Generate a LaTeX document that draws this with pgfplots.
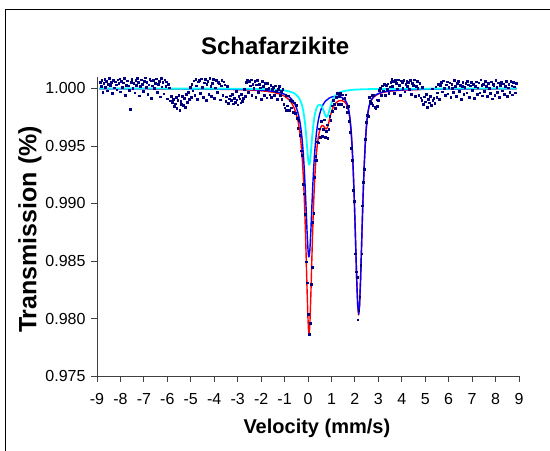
\documentclass[border=0pt]{standalone}
\usepackage{pgfplots}
\pgfplotsset{compat=1.18}
\usepackage{fontspec}
\setmainfont{Liberation Sans}
\definecolor{ptnavy}{RGB}{0,0,128}
\definecolor{fitred}{RGB}{255,0,0}
\definecolor{fitblue}{RGB}{0,0,255}
\definecolor{fitcyan}{RGB}{0,255,255}

\begin{document}
\begin{tikzpicture}[x=1bp,y=1bp]
\path[use as bounding box] (0,0) rectangle (550,451);
% chart frame (right and bottom edges fall outside the picture)
\draw[line width=1.3bp] (5.5,-20) -- (5.5,441.5) -- (570,441.5);
\begin{axis}[
    at={(97bp,75bp)}, anchor=south west,
    scale only axis, width=422bp, height=299bp,
    xmin=-9, xmax=9, ymin=0.975, ymax=1.001,
    axis x line*=bottom, axis y line*=left,
    axis line style={line width=0.8bp, black!75},
    xtick={-9,-8,...,9},
    ytick={0.975,0.980,0.985,0.990,0.995,1.000},
    tick align=outside, major tick length=6bp,
    tick style={line width=0.8bp, black!75},
    /pgf/number format/assume math mode=true,
    ticklabel style={font=\fontsize{16bp}{19bp}\selectfont},
    xticklabel style={yshift=-8bp},
    yticklabel style={xshift=-2bp, /pgf/number format/.cd, fixed, fixed zerofill, precision=3},
    title={Schafarzikite},
    title style={font=\bfseries\fontsize{24bp}{28bp}\selectfont, at={(axis description cs:0.422,1.084)}, anchor=center},
    xlabel={Velocity (mm/s)},
    xlabel style={font=\bfseries\fontsize{20bp}{23bp}\selectfont, at={(axis description cs:0.521,-0.176)}, anchor=center},
    ylabel={Transmission (\%)},
    ylabel style={font=\bfseries\fontsize{25bp}{28bp}\selectfont, at={(axis description cs:-0.159,0.49)}, anchor=center},
    clip=false,
]

% total fit
\addplot[fitred, line width=1.4bp, line join=round] coordinates {
(-8.9,0.99998) (-6,0.99997) (-4,0.99994) (-3,0.99990) (-2.5,0.99987) (-2,0.99980) (-1.75,0.99975)
(-1.48,0.99967) (-1.2,0.99951) (-1.0,0.99933) (-0.88,0.99915) (-0.8,0.99900) (-0.72,0.99880)
(-0.64,0.99853) (-0.6,0.99836) (-0.56,0.99815) (-0.52,0.99792) (-0.48,0.99763) (-0.44,0.99730)
(-0.40,0.99688) (-0.36,0.99633) (-0.32,0.99568) (-0.28,0.99484) (-0.24,0.99375) (-0.20,0.99235)
(-0.16,0.99055) (-0.12,0.98826) (-0.08,0.98549) (-0.04,0.98249) (0,0.97991) (0.02,0.97909)
(0.04,0.97872) (0.06,0.97888) (0.08,0.97952) (0.12,0.98191) (0.16,0.98489) (0.20,0.98771)
(0.24,0.99006) (0.28,0.99190) (0.32,0.99330) (0.36,0.99437) (0.40,0.99517) (0.44,0.99577)
(0.48,0.99620) (0.52,0.99650) (0.56,0.99669) (0.60,0.99678) (0.64,0.99677) (0.68,0.99669)
(0.72,0.99657) (0.76,0.99648) (0.80,0.99651) (0.84,0.99669) (0.88,0.99699) (0.92,0.99734)
(0.96,0.99767) (1.00,0.99797) (1.04,0.99820) (1.08,0.99840) (1.12,0.99854) (1.16,0.99867)
(1.20,0.99876) (1.24,0.99883) (1.28,0.99888) (1.32,0.99892) (1.36,0.99894) (1.40,0.99895)
(1.44,0.99894) (1.48,0.99892) (1.52,0.99888) (1.56,0.99883) (1.60,0.99874) (1.64,0.99862)
(1.68,0.99843) (1.72,0.99816) (1.76,0.99774) (1.80,0.99712) (1.84,0.99621) (1.88,0.99495)
(1.92,0.99327) (1.96,0.99115) (2.00,0.98864) (2.04,0.98588) (2.08,0.98318) (2.12,0.98110)
(2.16,0.98030) (2.20,0.98111) (2.24,0.98322) (2.28,0.98593) (2.32,0.98871) (2.36,0.99124)
(2.40,0.99337) (2.44,0.99507) (2.48,0.99635) (2.52,0.99728) (2.56,0.99792) (2.60,0.99837)
(2.64,0.99867) (2.68,0.99888) (2.72,0.99903) (2.80,0.99924) (2.88,0.99938) (2.96,0.99948)
(3.04,0.99955) (3.2,0.99967) (3.5,0.99977) (4.0,0.99986) (5.0,0.99993) (6.5,0.99996) (8.9,0.99998)
};

% component 1
\addplot[fitblue, line width=1.4bp, line join=round] coordinates {
(-8.9,0.99999) (-6,0.99998) (-4,0.99996) (-3,0.99993) (-2.5,0.99991) (-2,0.99986) (-1.75,0.99982)
(-1.48,0.99975) (-1.2,0.99964) (-1.0,0.99950) (-0.88,0.99937) (-0.8,0.99926) (-0.72,0.99911)
(-0.64,0.99891) (-0.6,0.99878) (-0.56,0.99863) (-0.52,0.99845) (-0.48,0.99824) (-0.44,0.99798)
(-0.40,0.99766) (-0.36,0.99727) (-0.32,0.99678) (-0.28,0.99615) (-0.24,0.99535) (-0.20,0.99433)
(-0.16,0.99303) (-0.12,0.99141) (-0.08,0.98951) (-0.04,0.98755) (0,0.98597) (0.02,0.98551)
(0.04,0.98535) (0.06,0.98551) (0.08,0.98597) (0.12,0.98754) (0.16,0.98950) (0.20,0.99140)
(0.24,0.99301) (0.28,0.99431) (0.32,0.99533) (0.36,0.99613) (0.40,0.99675) (0.44,0.99724)
(0.48,0.99763) (0.52,0.99794) (0.56,0.99820) (0.60,0.99841) (0.64,0.99858) (0.68,0.99872)
(0.72,0.99884) (0.76,0.99894) (0.80,0.99899) (0.84,0.99906) (0.88,0.99913) (0.92,0.99918)
(0.96,0.99922) (1.00,0.99925) (1.04,0.99928) (1.08,0.99930) (1.12,0.99931) (1.16,0.99932)
(1.20,0.99932) (1.24,0.99932) (1.28,0.99931) (1.32,0.99930) (1.36,0.99928) (1.40,0.99926)
(1.44,0.99922) (1.48,0.99917) (1.52,0.99912) (1.56,0.99904) (1.60,0.99894) (1.64,0.99880)
(1.68,0.99861) (1.72,0.99832) (1.76,0.99789) (1.80,0.99725) (1.84,0.99634) (1.88,0.99507)
(1.92,0.99339) (1.96,0.99126) (2.00,0.98874) (2.04,0.98598) (2.08,0.98328) (2.12,0.98119)
(2.16,0.98038) (2.20,0.98119) (2.24,0.98329) (2.28,0.98600) (2.32,0.98878) (2.36,0.99131)
(2.40,0.99344) (2.44,0.99513) (2.48,0.99642) (2.52,0.99734) (2.56,0.99798) (2.60,0.99842)
(2.64,0.99872) (2.68,0.99893) (2.72,0.99908) (2.80,0.99929) (2.88,0.99942) (2.96,0.99952)
(3.04,0.99959) (3.2,0.99970) (3.5,0.99980) (4.0,0.99988) (5.0,0.99994) (6.5,0.99997) (8.9,0.99999)
};

% component 2
\addplot[fitcyan, line width=1.8bp, line join=round] coordinates {
(-8.9,1.00000) (-6,0.99999) (-4,0.99999) (-3,0.99998) (-2.5,0.99997) (-2,0.99995) (-1.75,0.99994)
(-1.48,0.99991) (-1.2,0.99987) (-1.0,0.99983) (-0.88,0.99978) (-0.8,0.99974) (-0.72,0.99969)
(-0.64,0.99963) (-0.6,0.99959) (-0.56,0.99954) (-0.52,0.99948) (-0.48,0.99941) (-0.44,0.99932)
(-0.40,0.99921) (-0.36,0.99908) (-0.32,0.99891) (-0.28,0.99869) (-0.24,0.99841) (-0.20,0.99803)
(-0.16,0.99752) (-0.12,0.99685) (-0.08,0.99598) (-0.04,0.99494) (0,0.99395) (0.02,0.99359)
(0.04,0.99338) (0.06,0.99338) (0.08,0.99356) (0.12,0.99437) (0.16,0.99539) (0.20,0.99632)
(0.24,0.99705) (0.28,0.99760) (0.32,0.99799) (0.36,0.99826) (0.40,0.99844) (0.44,0.99855)
(0.48,0.99859) (0.52,0.99858) (0.56,0.99852) (0.60,0.99839) (0.64,0.99821) (0.68,0.99799)
(0.72,0.99775) (0.76,0.99757) (0.80,0.99752) (0.84,0.99763) (0.88,0.99787) (0.92,0.99817)
(0.96,0.99846) (1.00,0.99872) (1.04,0.99893) (1.08,0.99910) (1.12,0.99924) (1.16,0.99935)
(1.20,0.99944) (1.28,0.99957) (1.36,0.99966) (1.44,0.99972) (1.52,0.99977) (1.60,0.99980)
(1.72,0.99984) (1.84,0.99987) (2.0,0.99990) (2.2,0.99992) (2.5,0.99994) (3.0,0.99996)
(4.0,0.99998) (6.0,0.99999) (8.9,1.00000)
};

% measured spectrum
\addplot[only marks, mark=square*, mark size=0.85bp, ptnavy, mark options={line width=0.2bp}] coordinates {
(-8.88,1.00058) (-8.84,1.00021) (-8.80,1.00074) (-8.76,0.99968) (-8.72,1.00045) (-8.68,1.00083)
(-8.64,1.00012) (-8.60,1.00066) (-8.56,0.99982) (-8.52,1.00039) (-8.48,1.00092) (-8.44,1.00027)
(-8.40,1.00055) (-8.36,0.99959) (-8.32,1.00070) (-8.28,1.00008) (-8.24,1.00061) (-8.20,1.00035)
(-8.16,0.99991) (-8.12,1.00078) (-8.08,1.00044) (-8.04,1.00086) (-8.00,0.99973) (-7.96,1.00063)
(-7.92,1.00015) (-7.88,1.00052) (-7.84,1.00090) (-7.80,0.99945) (-7.76,1.00031) (-7.72,1.00068)
(-7.68,1.00024) (-7.64,0.99986) (-7.60,0.99822) (-7.56,1.00057) (-7.52,1.00081) (-7.48,1.00006)
(-7.44,1.00047) (-7.40,0.99964) (-7.36,1.00072) (-7.32,1.00029) (-7.28,1.00088) (-7.24,1.00053)
(-7.20,0.99938) (-7.16,1.00019) (-7.12,1.00076) (-7.08,1.00041) (-7.04,0.99977) (-7.00,1.00065)
(-6.96,1.00095) (-6.92,1.00011) (-6.88,1.00058) (-6.84,0.99953) (-6.80,1.00034) (-6.76,1.00080)
(-6.72,1.00069) (-6.68,0.99919) (-6.64,1.00026) (-6.60,1.00073) (-6.56,1.00002) (-6.52,1.00049)
(-6.48,1.00085) (-6.44,0.99971) (-6.40,1.00037) (-6.36,1.00062) (-6.32,0.99930) (-6.28,1.00091)
(-6.24,1.00016) (-6.20,1.00054) (-6.16,0.99956) (-6.12,1.00077) (-6.08,1.00023) (-6.04,1.00060)
(-6.00,0.99912) (-5.96,1.00039) (-5.92,1.00007) (-5.88,0.99895) (-5.84,0.99936) (-5.80,0.99882)
(-5.76,0.99908) (-5.72,0.99847) (-5.68,0.99869) (-5.64,0.99924) (-5.60,0.99828) (-5.56,0.99901)
(-5.52,0.99942) (-5.48,0.99810) (-5.44,0.99888) (-5.40,0.99863) (-5.36,0.99932) (-5.32,0.99855)
(-5.28,0.99916) (-5.24,0.99840) (-5.20,0.99953) (-5.16,0.99879) (-5.12,0.99970) (-5.08,0.99905)
(-5.04,1.00012) (-5.00,0.99928) (-4.96,1.00041) (-4.92,0.99982) (-4.88,1.00068) (-4.84,0.99944)
(-4.80,1.00083) (-4.76,1.00025) (-4.72,0.99909) (-4.68,1.00059) (-4.64,1.00074) (-4.60,0.99962)
(-4.56,1.00087) (-4.52,1.00014) (-4.48,0.99923) (-4.44,1.00052) (-4.40,1.00079) (-4.36,0.99897)
(-4.32,1.00036) (-4.28,1.00065) (-4.24,0.99951) (-4.20,1.00092) (-4.16,1.00021) (-4.12,0.99934)
(-4.08,1.00048) (-4.04,1.00081) (-4.00,0.99915) (-3.96,1.00009) (-3.92,1.00070) (-3.88,0.99966)
(-3.84,1.00058) (-3.80,1.00043) (-3.76,0.99903) (-3.72,1.00026) (-3.68,1.00075) (-3.64,0.99942)
(-3.60,1.00061) (-3.56,1.00033) (-3.52,0.99890) (-3.48,0.99929) (-3.44,1.00018) (-3.40,0.99874)
(-3.36,0.99911) (-3.32,0.99938) (-3.28,0.99896) (-3.24,0.99953) (-3.20,0.99869) (-3.16,0.99917)
(-3.12,0.99881) (-3.08,0.99975) (-3.04,0.99904) (-3.00,0.99860) (-2.96,0.99932) (-2.92,0.99912)
(-2.88,0.99876) (-2.84,0.99952) (-2.80,0.99889) (-2.76,0.99917) (-2.72,0.99997) (-2.68,0.99934)
(-2.64,1.00055) (-2.60,1.00073) (-2.56,0.99970) (-2.52,1.00062) (-2.48,1.00024) (-2.44,1.00076)
(-2.40,0.99943) (-2.36,1.00041) (-2.32,1.00002) (-2.28,1.00063) (-2.24,0.99924) (-2.20,1.00035)
(-2.16,1.00070) (-2.12,0.99971) (-2.08,1.00040) (-2.04,1.00009) (-2.00,0.99909) (-1.96,1.00066)
(-1.92,1.00023) (-1.88,0.99944) (-1.84,1.00047) (-1.80,0.99992) (-1.76,0.99920) (-1.72,1.00047)
(-1.68,1.00005) (-1.64,0.99946) (-1.60,1.00032) (-1.56,0.99927) (-1.52,0.99994) (-1.48,1.00012)
(-1.44,0.99943) (-1.40,1.00026) (-1.36,0.99978) (-1.32,0.99907) (-1.28,0.99992) (-1.24,1.00023)
(-1.20,0.99943) (-1.16,0.99977) (-1.12,0.99909) (-1.08,0.99993) (-1.04,0.99863) (-1.00,0.99835)
(-0.96,0.99943) (-0.92,0.99810) (-0.88,0.99852) (-0.84,0.99939) (-0.80,0.99815) (-0.76,0.99898)
(-0.72,0.99833) (-0.68,0.99891) (-0.64,0.99794) (-0.60,0.99877) (-0.56,0.99785) (-0.52,0.99858)
(-0.48,0.99745) (-0.44,0.99658) (-0.40,0.99723) (-0.36,0.99592) (-0.32,0.99626) (-0.28,0.99459)
(-0.24,0.99422) (-0.20,0.99169) (-0.16,0.99085) (-0.12,0.98908) (-0.08,0.98494) (-0.04,0.98313)
(0.00,0.98036) (0.04,0.97862) (0.08,0.97962) (0.12,0.98301) (0.16,0.98444) (0.20,0.98841)
(0.24,0.98914) (0.28,0.99228) (0.32,0.99415) (0.36,0.99377) (0.40,0.99539) (0.44,0.99529)
(0.48,0.99650) (0.52,0.99580) (0.56,0.99714) (0.60,0.99583) (0.64,0.99647) (0.68,0.99729)
(0.72,0.99575) (0.76,0.99628) (0.80,0.99686) (0.84,0.99569) (0.88,0.99644) (0.92,0.99762)
(0.96,0.99727) (1.00,0.99852) (1.04,0.99802) (1.08,0.99902) (1.12,0.99864) (1.16,0.99832)
(1.20,0.99924) (1.24,0.99958) (1.28,0.99866) (1.32,0.99932) (1.36,0.99962) (1.40,0.99865)
(1.44,0.99946) (1.48,0.99912) (1.52,0.99843) (1.56,0.99918) (1.60,0.99946) (1.64,0.99837)
(1.68,0.99793) (1.72,0.99846) (1.76,0.99714) (1.80,0.99622) (1.84,0.99481) (1.88,0.99375)
(1.92,0.99117) (1.96,0.99020) (2.00,0.98564) (2.04,0.98408) (2.08,0.98358) (2.12,0.97990)
(2.16,0.98075) (2.20,0.98191) (2.24,0.98462) (2.28,0.98563) (2.32,0.98981) (2.36,0.99184)
(2.40,0.99297) (2.44,0.99562) (2.48,0.99705) (2.52,0.99768) (2.56,0.99757) (2.60,0.99927)
(2.64,0.99892) (2.68,0.99873) (2.72,0.99941) (2.76,0.99855) (2.80,0.99944) (2.84,0.99837)
(2.88,0.99828) (2.92,0.99903) (2.96,0.99848) (3.00,0.99897) (3.04,0.99985) (3.08,1.00006)
(3.12,0.99941) (3.16,1.00026) (3.20,0.99982) (3.24,1.00039) (3.28,0.99941) (3.32,1.00027)
(3.36,0.99996) (3.40,1.00043) (3.44,0.99961) (3.48,1.00017) (3.52,1.00057) (3.56,1.00080)
(3.60,1.00023) (3.64,1.00065) (3.68,0.99960) (3.72,1.00073) (3.76,1.00045) (3.80,1.00000)
(3.84,1.00077) (3.88,1.00032) (3.92,0.99945) (3.96,1.00068) (4.00,1.00051) (4.04,1.00005)
(4.08,1.00075) (4.12,0.99973) (4.16,1.00040) (4.20,1.00063) (4.24,1.00019) (4.28,1.00056)
(4.32,0.99995) (4.36,1.00071) (4.40,0.99950) (4.44,1.00047) (4.48,1.00029) (4.52,1.00076)
(4.56,0.99935) (4.60,1.00020) (4.64,1.00062) (4.68,1.00005) (4.72,0.99945) (4.76,1.00046)
(4.80,0.99921) (4.84,0.99898) (4.88,1.00011) (4.92,0.99863) (4.96,0.99929) (5.00,0.99885)
(5.04,0.99953) (5.08,0.99841) (5.12,0.99905) (5.16,0.99878) (5.20,0.99933) (5.24,0.99853)
(5.28,0.99998) (5.32,0.99896) (5.36,0.99918) (5.40,0.99871) (5.44,1.00017) (5.48,0.99927)
(5.52,0.99963) (5.56,1.00041) (5.60,0.99908) (5.64,1.00029) (5.68,1.00055) (5.72,0.99973)
(5.76,1.00068) (5.80,1.00001) (5.84,0.99941) (5.88,1.00033) (5.92,1.00059) (5.96,0.99955)
(6.00,1.00015) (6.04,1.00051) (6.08,0.99923) (6.12,1.00038) (6.16,1.00006) (6.20,0.99968)
(6.24,1.00074) (6.28,1.00023) (6.32,0.99933) (6.36,1.00045) (6.40,1.00063) (6.44,0.99978)
(6.48,1.00031) (6.52,0.99905) (6.56,1.00020) (6.60,1.00057) (6.64,0.99951) (6.68,1.00012)
(6.72,1.00049) (6.76,0.99963) (6.80,1.00067) (6.84,1.00034) (6.88,0.99928) (6.92,1.00026)
(6.96,1.00053) (7.00,0.99983) (7.04,1.00041) (7.08,0.99916) (7.12,1.00018) (7.16,1.00061)
(7.20,0.99949) (7.24,1.00007) (7.28,1.00052) (7.32,0.99965) (7.36,1.00076) (7.40,1.00029)
(7.44,0.99938) (7.48,1.00040) (7.52,0.99975) (7.56,1.00065) (7.60,1.00022) (7.64,0.99931)
(7.68,1.00047) (7.72,1.00004) (7.76,0.99958) (7.80,1.00059) (7.84,0.99913) (7.88,1.00036)
(7.92,1.00028) (7.96,0.99945) (8.00,1.00070) (8.04,1.00014) (8.08,0.99967) (8.12,1.00051)
(8.16,0.99923) (8.20,1.00032) (8.24,1.00057) (8.28,0.99981) (8.32,1.00043) (8.36,0.99953)
(8.40,1.00021) (8.44,1.00064) (8.48,0.99935) (8.52,1.00009) (8.56,1.00038) (8.60,0.99971)
(8.64,1.00062) (8.68,1.00024) (8.72,0.99948) (8.76,1.00053) (8.80,1.00017) (8.84,0.99963)
(8.88,1.00045)
};
\end{axis}
\end{tikzpicture}
\end{document}
